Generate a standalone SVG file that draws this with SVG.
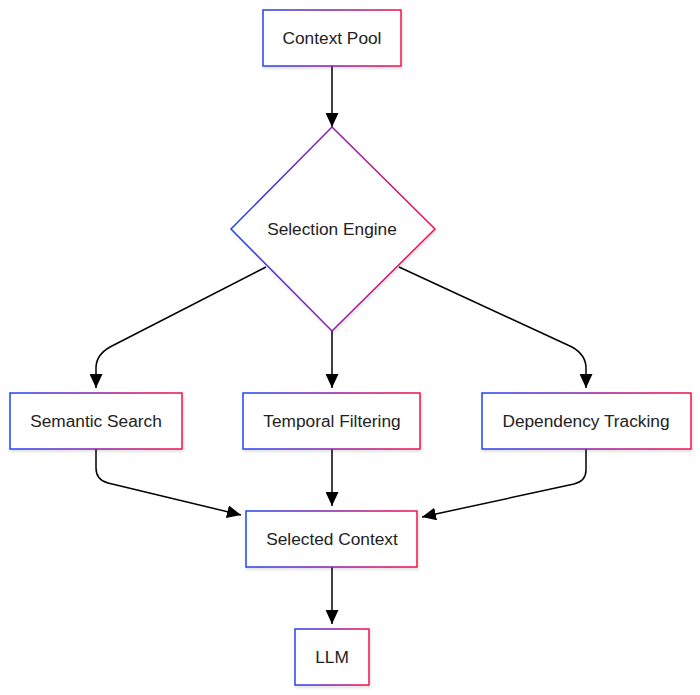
<svg xmlns="http://www.w3.org/2000/svg" width="700" height="695" viewBox="0 0 700 695">
<defs>
<linearGradient id="g" x1="0" y1="0" x2="1" y2="0">
<stop offset="0" stop-color="#1f44f5"/>
<stop offset="0.5" stop-color="#8a1fa8"/>
<stop offset="1" stop-color="#f5104a"/>
</linearGradient>
<filter id="sh" x="-10%" y="-10%" width="120%" height="130%">
<feDropShadow dx="1" dy="2" stdDeviation="1.5" flood-color="#000" flood-opacity="0.12"/>
</filter>
<marker id="ah" viewBox="0 0 14 13" refX="14" refY="6.5" markerWidth="14" markerHeight="13" markerUnits="userSpaceOnUse" orient="auto">
<path d="M0,0 L14,6.5 L0,13 z" fill="#000"/>
</marker>
</defs>
<style>
.n{fill:#fff;stroke:url(#g);stroke-width:1.5;filter:url(#sh)}
.t{font-family:"Liberation Sans",Arial,sans-serif;font-size:17.3px;fill:#222;text-anchor:middle;dominant-baseline:central}
.c{fill:none;stroke:#000;stroke-width:1.5;marker-end:url(#ah)}
</style>
<rect width="700" height="695" fill="#fff"/>
<g id="connectors">
<path class="c" d="M332,66 L332,127"/>
<path class="c" d="M266,267 L110,347 Q96,355 96,368 L96,388"/>
<path class="c" d="M332,331 L332,388"/>
<path class="c" d="M399,267 L572,347 Q586,355 586,368 L586,388"/>
<path class="c" d="M96,449 L96,468 Q96,480 108,483 L241,515"/>
<path class="c" d="M332,449 L332,506"/>
<path class="c" d="M586,449 L586,470 Q586,481 574,484 L422,517"/>
<path class="c" d="M332,567 L332,624"/>
</g>
<g id="context-pool"><rect class="n" x="263" y="10" width="138" height="56"/><text class="t" x="332" y="38">Context Pool</text></g>
<g id="selection-engine"><polygon class="n" points="332,127 435,229 332,331 231,229"/><text class="t" x="332" y="229">Selection Engine</text></g>
<g id="semantic-search"><rect class="n" x="10" y="393" width="172" height="56"/><text class="t" x="96" y="421">Semantic Search</text></g>
<g id="temporal-filtering"><rect class="n" x="243" y="393" width="177" height="56"/><text class="t" x="332" y="421">Temporal Filtering</text></g>
<g id="dependency-tracking"><rect class="n" x="482" y="393" width="209" height="56"/><text class="t" x="586" y="421">Dependency Tracking</text></g>
<g id="selected-context"><rect class="n" x="246" y="511" width="171" height="56"/><text class="t" x="332" y="539">Selected Context</text></g>
<g id="llm"><rect class="n" x="295" y="629" width="74" height="56"/><text class="t" x="332" y="657">LLM</text></g>
</svg>
